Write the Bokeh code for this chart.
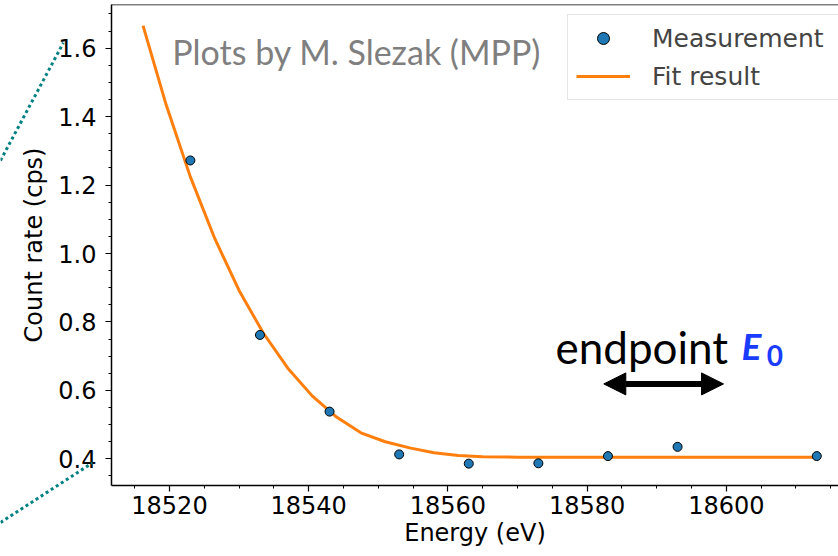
from bokeh.plotting import figure
from bokeh.models import (Range1d, Legend, LegendItem, Label, Arrow, NormalHead,
                          SingleIntervalTicker, PrintfTickFormatter, Span, GridBox)
from bokeh.embed import file_html
from bokeh.resources import INLINE

# --- data ---
energy = [18523, 18533, 18543, 18553, 18563, 18573, 18583, 18593, 18613]
rate = [1.272, 0.762, 0.538, 0.413, 0.386, 0.387, 0.408, 0.435, 0.408]

fit_energy = [18516.2, 18519.5, 18523.0, 18526.5, 18530.0, 18533.5, 18537.0,
              18540.5, 18544.0, 18547.5, 18551.0, 18554.5, 18558.0, 18561.5,
              18565.0, 18570.0, 18580.0, 18590.0, 18600.0, 18613.0]
fit_rate = [1.666, 1.436, 1.224, 1.044, 0.892, 0.767, 0.665, 0.584, 0.522,
            0.476, 0.450, 0.432, 0.418, 0.410, 0.406, 0.405, 0.405, 0.405,
            0.405, 0.405]

x_label = "Energy (eV)"
y_label = "Count rate (cps)"
legend_labels = ["Measurement", "Fit result"]
credit = "Plots by M. Slezak (MPP)"

# slide decoration: two dotted zoom lines left of the axes (canvas pixels)
deco_xs = [[0.0, 62.9], [0.0, 91.9]]
deco_ys = [[160.0, 42.2], [522.0, 462.4]]

X0, X1 = 18511.67, 18616.12
Y0, Y1 = 0.3221, 1.7277
W, H = 838, 556
FL, FT, FB = 111, 4, 485          # frame left / top / bottom on the canvas

p = figure(width=W, height=H, output_backend="svg", toolbar_location=None,
           x_range=Range1d(X0, X1), y_range=Range1d(Y0, Y1),
           min_border_left=FL, min_border_right=0, min_border_top=FT,
           min_border_bottom=H - FB)
p.frame_align = False
p.grid.visible = False
p.outline_line_color = None
p.background_fill_color = "white"
p.border_fill_color = "white"

line_r = p.line(fit_energy, fit_rate, line_color="#ff7f0e", line_width=3)
pts_r = p.scatter(energy, rate, size=9, fill_color="#1f77b4", line_color="black",
                  line_width=1)

for ax, tick in ((p.xaxis[0], SingleIntervalTicker(interval=20, num_minor_ticks=4)),
                 (p.yaxis[0], SingleIntervalTicker(interval=0.2, num_minor_ticks=4))):
    ax.ticker = tick
    ax.major_tick_out = 6
    ax.major_tick_in = 0
    ax.minor_tick_out = 3
    ax.minor_tick_in = 0
    ax.major_tick_line_width = 1.2
    ax.minor_tick_line_width = 1
    ax.axis_line_width = 1.5
    ax.major_label_text_font = "DejaVu Sans"
    ax.major_label_text_font_size = "24px"
    ax.major_label_text_color = "black"
    ax.axis_label_text_font = "DejaVu Sans"
    ax.axis_label_text_font_size = "24px"
    ax.axis_label_text_font_style = "normal"
    ax.axis_label_text_color = "black"

p.yaxis.formatter = PrintfTickFormatter(format="%.1f")
p.xaxis.axis_label = x_label
p.yaxis.axis_label = y_label
p.xaxis.major_label_standoff = 4
p.xaxis.axis_label_standoff = 2
p.yaxis.major_label_standoff = 9
p.yaxis.axis_label_standoff = 7

# top border of the axes box (right border lies outside the picture)
p.add_layout(Span(location=Y1, dimension="width", line_color="black",
                  line_width=1.5))

legend = Legend(items=[LegendItem(label=legend_labels[0], renderers=[pts_r]),
                       LegendItem(label=legend_labels[1], renderers=[line_r])],
                location=(456, 385))
legend.label_text_font = "DejaVu Sans"
legend.label_text_font_size = "25px"
legend.label_width = 195
legend.glyph_width = 54
legend.glyph_height = 30
legend.label_height = 30
legend.label_standoff = 22
legend.spacing = 8
legend.padding = 8
legend.margin = 0
legend.border_line_color = "#cccccc"
legend.border_line_width = 1
legend.background_fill_alpha = 0.8
p.add_layout(legend)

p.add_layout(Label(x=18520.4, y=1.591, text=credit, text_font="Lato",
                   text_font_size="34px", text_color="#7f7f7f",
                   text_baseline="alphabetic"))

p.add_layout(Label(x=18575.46, y=0.726, text="endpoint", text_font="Lato",
                   text_font_size="44px", text_color="black",
                   text_baseline="alphabetic"))
p.add_layout(Label(x=18602.2, y=0.731, text="E", text_font="Lato",
                   text_font_size="37px", text_font_style="bold italic",
                   text_color="#1a3cff", text_baseline="alphabetic"))
p.add_layout(Label(x=18605.8, y=0.703, text="0", text_font="Lato",
                   text_font_size="28px", text_font_style="bold",
                   text_color="#1a3cff", text_baseline="alphabetic"))

p.add_layout(Arrow(start=NormalHead(size=22, fill_color="black", line_color="black"),
                   end=NormalHead(size=22, fill_color="black", line_color="black"),
                   x_start=18582.4, y_start=0.619, x_end=18599.6, y_end=0.619,
                   line_width=6, line_color="black"))

# transparent overlay figure in canvas pixels for the slide decoration
p2 = figure(width=W, height=H, output_backend="svg", toolbar_location=None,
            x_range=Range1d(0, W), y_range=Range1d(H, 0),
            x_axis_type=None, y_axis_type=None,
            min_border_left=0, min_border_right=0, min_border_top=0,
            min_border_bottom=0)
p2.frame_align = False
p2.grid.visible = False
p2.outline_line_color = None
p2.background_fill_color = None
p2.border_fill_color = None
p2.multi_line(deco_xs, deco_ys, line_color="#008080", line_width=3,
              line_dash="3 3")

layout = GridBox(children=[(p, 0, 0), (p2, 0, 0)])

open("out.html", "w").write(file_html(layout, INLINE))
